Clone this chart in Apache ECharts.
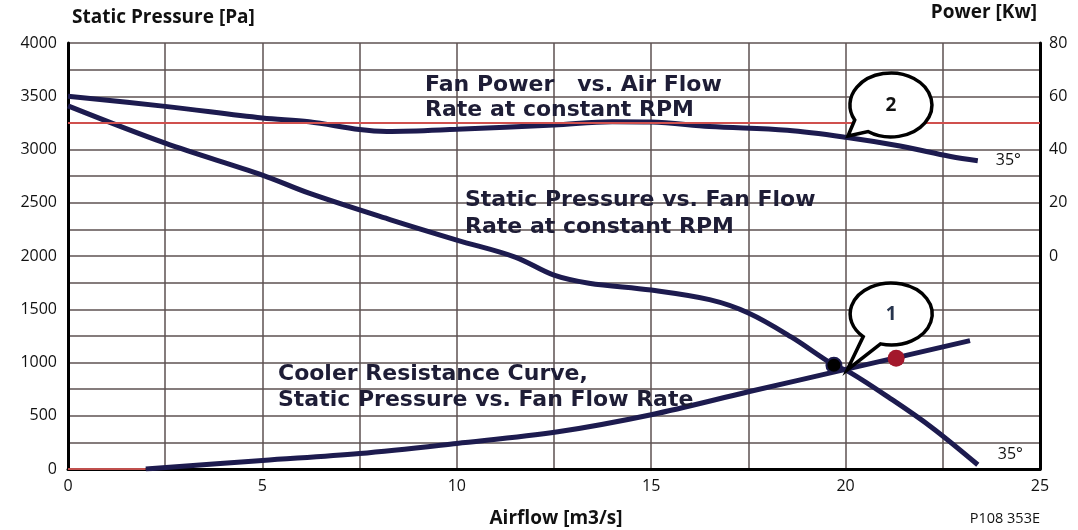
<!DOCTYPE html>
<html>
<head>
<meta charset="utf-8">
<title>Fan curve</title>
<script src="https://cdn.jsdelivr.net/npm/echarts@6/dist/echarts.min.js"></script>
<style>
  html, body { margin: 0; padding: 0; background: #fff; }
  #chart { width: 1078px; height: 530px; }
</style>
</head>
<body>
<div id="chart"></div>
<script>
// fan power vs. air flow (right axis, kW)
const powerFlow = [0, 2.5, 5, 6.2, 7.5, 8.2, 10, 12.5, 14, 15, 16.5, 18.5, 20, 21.4, 22.7, 23.4]
const powerKw = [60, 56.2, 51.8, 50.4, 47.5, 46.8, 47.6, 49.2, 50.4, 50.3, 48.6, 47.2, 44.6, 41.3, 37.4, 35.8]
// static pressure vs. fan flow (left axis, Pa)
const fanFlow = [0, 2.5, 5, 6.2, 8.3, 10, 11.5, 12.5, 13.4, 15, 16.5, 17.5, 18.6, 19.7, 20.1, 21.1, 22.2, 23.4]
const fanPressure = [3410, 3060, 2760, 2590, 2340, 2150, 1990, 1820, 1745, 1680, 1590, 1465, 1240, 975, 910, 675, 395, 40]
// cooler resistance curve
const coolerFlow = [2, 5, 7.5, 10, 12.6, 15, 17.5, 20, 23.2]
const coolerPressure = [0, 80, 145, 240, 350, 510, 725, 935, 1205]
// red segment on the base line before the cooler curve starts
const baseFlow = [0, 2]
const basePressure = [0, 0]
// operating points
const blackPoint = [19.7, 975]
const redPoint = [21.3, 1040]
// reference power level (kW)
const powerLimit = 50
// callout anchors
const bubbleFlow = [20.04, 20.06]
const bubblePressure = [930, 3127]
const bubbleLabels = ['1', '2']
const endLabelText = '35°'

const pairs = (xs, ys) => xs.map((x, i) => [x, ys[i]])

const navy = '#1d1b4f'
const gridColor = '#5e5252'
const tickFont = { color: '#111', fontSize: 16, fontFamily: 'Open Sans' }
const noteFont = { fontSize: 22, fontWeight: 'bold', fontFamily: 'DejaVu Sans', fill: '#1e1d36' }

// bubble shape relative to its tip: ellipse offset, radii, tail angles
const bubbleShapes = [
  { dx: 44, dy: -56, rx: 41, ry: 31, a: 133, b: 105, color: '#27344d' },
  { dx: 43, dy: -31, rx: 41, ry: 32, a: 152, b: 124, color: '#111' }
]

const chart = echarts.init(document.getElementById('chart'))

chart.setOption({
  animation: false,
  backgroundColor: '#fff',
  grid: { left: 68, right: 38, top: 43, bottom: 61 },
  xAxis: {
    type: 'value',
    min: 0,
    max: 25,
    interval: 5,
    axisLine: { onZero: false, lineStyle: { color: '#000', width: 3 } },
    axisTick: { show: false },
    axisLabel: { ...tickFont, margin: 9 },
    splitLine: { lineStyle: { color: gridColor, width: 1.5 } },
    minorTick: { show: false, splitNumber: 2 },
    minorSplitLine: { show: true, lineStyle: { color: gridColor, width: 1.5 } }
  },
  yAxis: [
    {
      type: 'value',
      min: 0,
      max: 4000,
      interval: 500,
      axisLine: { show: true, lineStyle: { color: '#000', width: 3 } },
      axisTick: { show: false },
      axisLabel: { ...tickFont, margin: 11, formatter: v => String(v) },
      splitLine: { lineStyle: { color: gridColor, width: 1.5 } },
      minorTick: { show: false, splitNumber: 2 },
      minorSplitLine: { show: true, lineStyle: { color: gridColor, width: 1.5 } }
    },
    {
      type: 'value',
      position: 'right',
      min: -80,
      max: 80,
      interval: 20,
      axisLine: { show: true, lineStyle: { color: '#000', width: 3 } },
      axisTick: { show: false },
      axisLabel: { ...tickFont, margin: 9, formatter: v => (v >= 0 ? String(v) : '') },
      splitLine: { show: false }
    }
  ],
  series: [
    {
      name: 'Fan Power',
      type: 'line',
      yAxisIndex: 1,
      data: pairs(powerFlow, powerKw),
      smooth: 0.35,
      symbol: 'none',
      lineStyle: { color: navy, width: 5 },
      endLabel: { show: true, formatter: endLabelText, distance: 18, ...tickFont },
      markLine: {
        silent: true,
        symbol: 'none',
        label: { show: false },
        lineStyle: { color: '#d0504e', width: 2, type: 'solid' },
        data: [{ yAxis: powerLimit }]
      },
      z: 3
    },
    {
      name: 'Static Pressure',
      type: 'line',
      data: pairs(fanFlow, fanPressure),
      smooth: 0.35,
      symbol: 'none',
      lineStyle: { color: navy, width: 5 },
      endLabel: {
        show: true, formatter: endLabelText, distance: 16, offset: [0, -10],
        backgroundColor: '#fff', padding: [2, 4], ...tickFont
      },
      z: 3
    },
    {
      name: 'Cooler Resistance',
      type: 'line',
      data: pairs(coolerFlow, coolerPressure),
      smooth: 0.35,
      symbol: 'none',
      lineStyle: { color: navy, width: 5 },
      z: 3
    },
    {
      name: 'Base',
      type: 'line',
      data: pairs(baseFlow, basePressure),
      symbol: 'none',
      lineStyle: { color: '#c0504d', width: 2 },
      z: 2
    },
    {
      type: 'scatter',
      data: [blackPoint],
      symbolSize: 15,
      itemStyle: { color: '#000', borderColor: navy, borderWidth: 2, opacity: 1 },
      z: 4
    },
    {
      type: 'scatter',
      data: [redPoint],
      symbolSize: 17,
      itemStyle: { color: '#a3182c', opacity: 1 },
      z: 4
    },
    {
      type: 'custom',
      clip: false,
      z: 5,
      data: pairs(bubbleFlow, bubblePressure),
      renderItem(params, api) {
        const tip = api.coord([api.value(0), api.value(1)])
        const s = bubbleShapes[params.dataIndex]
        const cx = tip[0] + s.dx
        const cy = tip[1] + s.dy
        const pt = deg => [cx + s.rx * Math.cos(deg * Math.PI / 180), cy + s.ry * Math.sin(deg * Math.PI / 180)]
        const a = pt(s.a)
        const b = pt(s.b)
        const d = `M${a[0]},${a[1]} L${tip[0]},${tip[1]} L${b[0]},${b[1]} A${s.rx},${s.ry} 0 1 0 ${a[0]},${a[1]} Z`
        return {
          type: 'group',
          children: [
            { type: 'path', shape: { pathData: d }, style: { fill: '#fff', stroke: '#000', lineWidth: 3.5 } },
            {
              type: 'text',
              x: cx,
              y: cy + 1,
              style: {
                text: bubbleLabels[params.dataIndex], fill: s.color, fontSize: 19, fontWeight: 'bold',
                fontFamily: 'Open Sans', align: 'center', verticalAlign: 'middle'
              }
            }
          ]
        }
      }
    }
  ],
  graphic: [
    {
      type: 'text', x: 72, y: 18,
      style: { text: 'Static Pressure [Pa]', fontSize: 19, fontWeight: 'bold', fontFamily: 'Open Sans', fill: '#111', verticalAlign: 'middle' }
    },
    {
      type: 'text', x: 1037, y: 13,
      style: { text: 'Power [Kw]', fontSize: 19, fontWeight: 'bold', fontFamily: 'Open Sans', fill: '#111', align: 'right', verticalAlign: 'middle' }
    },
    {
      type: 'text', x: 556, y: 519,
      style: { text: 'Airflow [m3/s]', fontSize: 19, fontWeight: 'bold', fontFamily: 'Open Sans', fill: '#111', align: 'center', verticalAlign: 'middle' }
    },
    {
      type: 'text', x: 1040, y: 519,
      style: { text: 'P108 353E', fontSize: 14.5, fontFamily: 'Open Sans', fill: '#111', align: 'right', verticalAlign: 'middle' }
    },
    {
      type: 'text', x: 425, y: 72.5, z: 10,
      style: { text: 'Fan Power   vs. Air Flow\nRate at constant RPM', lineHeight: 25, ...noteFont }
    },
    {
      type: 'text', x: 465, y: 186.5, z: 10,
      style: { text: 'Static Pressure vs. Fan Flow\nRate at constant RPM', lineHeight: 27, ...noteFont }
    },
    {
      type: 'text', x: 278, y: 361, z: 10,
      style: { text: 'Cooler Resistance Curve,\nStatic Pressure vs. Fan Flow Rate', lineHeight: 26, ...noteFont }
    }
  ]
})
</script>
</body>
</html>
